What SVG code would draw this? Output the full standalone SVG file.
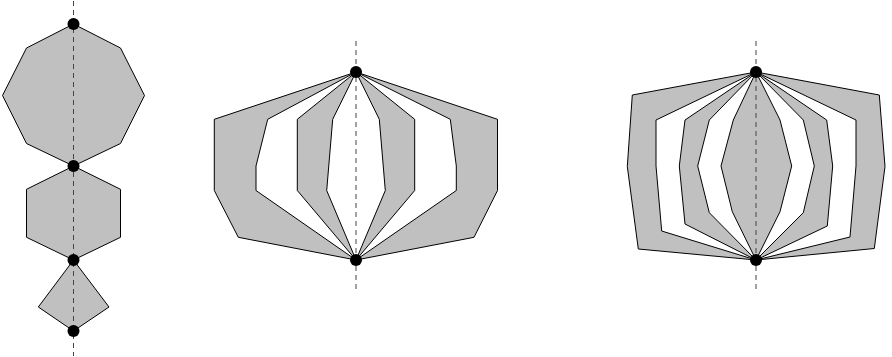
<svg xmlns="http://www.w3.org/2000/svg" width="892" height="357" viewBox="0 0 892 357">
  <style>
    .g { fill: #c0c0c0; stroke: #000; stroke-width: 1; stroke-linejoin: miter; }
    .w { fill: #ffffff; stroke: #000; stroke-width: 1; stroke-linejoin: miter; }
    .axis { stroke: #444; stroke-width: 1; stroke-dasharray: 5 4; fill: none; }
    .dot { fill: #000; }
  </style>
  <rect width="892" height="357" fill="#fff"/>

  <g id="chain">
    <polygon class="g" points="73.5,24 120.5,48 144.5,95.5 120.5,143.5 73.5,166 26.5,143.5 2.5,95.5 26.5,48"/>
    <polygon class="g" points="73.5,166 120.5,189.3 120.5,237.3 73.5,260 26.5,237.3 26.5,189.3"/>
    <polygon class="g" points="73.5,260 109,307 73.5,331 38.3,307"/>
    <line class="axis" x1="73.5" y1="1" x2="73.5" y2="356"/>
    <circle class="dot" cx="73.5" cy="24" r="6"/>
    <circle class="dot" cx="73.5" cy="166" r="6"/>
    <circle class="dot" cx="73.5" cy="260" r="6"/>
    <circle class="dot" cx="73.5" cy="331" r="6"/>
  </g>

  <g id="nested-middle">
    <polygon class="g" points="356,72 497.5,119.3 497.5,190.5 474,237.3 356,260 238.3,237.3 214.3,190.5 214.3,119.3"/>
    <polygon class="w" points="356,72 450.3,119.3 456.3,166 456.3,190.5 356,260 256,190.5 256,166 267.7,119.3"/>
    <polygon class="g" points="356,72 414.7,119.3 414.7,190.5 356,260 297.3,190.5 297.3,119.3"/>
    <polygon class="w" points="356,72 379.3,119.3 385.3,190.5 356,260 326.7,190.5 332.7,119.3"/>
    <line class="axis" x1="356" y1="41" x2="356" y2="290"/>
    <circle class="dot" cx="356" cy="72" r="6"/>
    <circle class="dot" cx="356" cy="260" r="6"/>
  </g>

  <g id="nested-right">
    <polygon class="g" points="756,72 879.3,95 885,166.5 874.3,248.5 756,260 638.3,249 627.3,166.5 632.3,95"/>
    <polygon class="w" points="756,72 856,120 856,166 850,237 756,260 661.7,231 656,166 656,120"/>
    <polygon class="g" points="756,72 826.7,120 832.7,166 827.3,226 756,260 685,224 679.3,166 685,120"/>
    <polygon class="w" points="756,72 803.3,120 814.3,166 803.3,212.7 756,260 709.3,212.7 697.7,166 709.3,120"/>
    <polygon class="g" points="756,72 780,120 791.7,166 780,211.7 756,260 732.3,211.7 721,166 733.3,120"/>
    <line class="axis" x1="756" y1="41" x2="756" y2="290"/>
    <circle class="dot" cx="756" cy="72" r="6"/>
    <circle class="dot" cx="756" cy="260" r="6"/>
  </g>
</svg>
